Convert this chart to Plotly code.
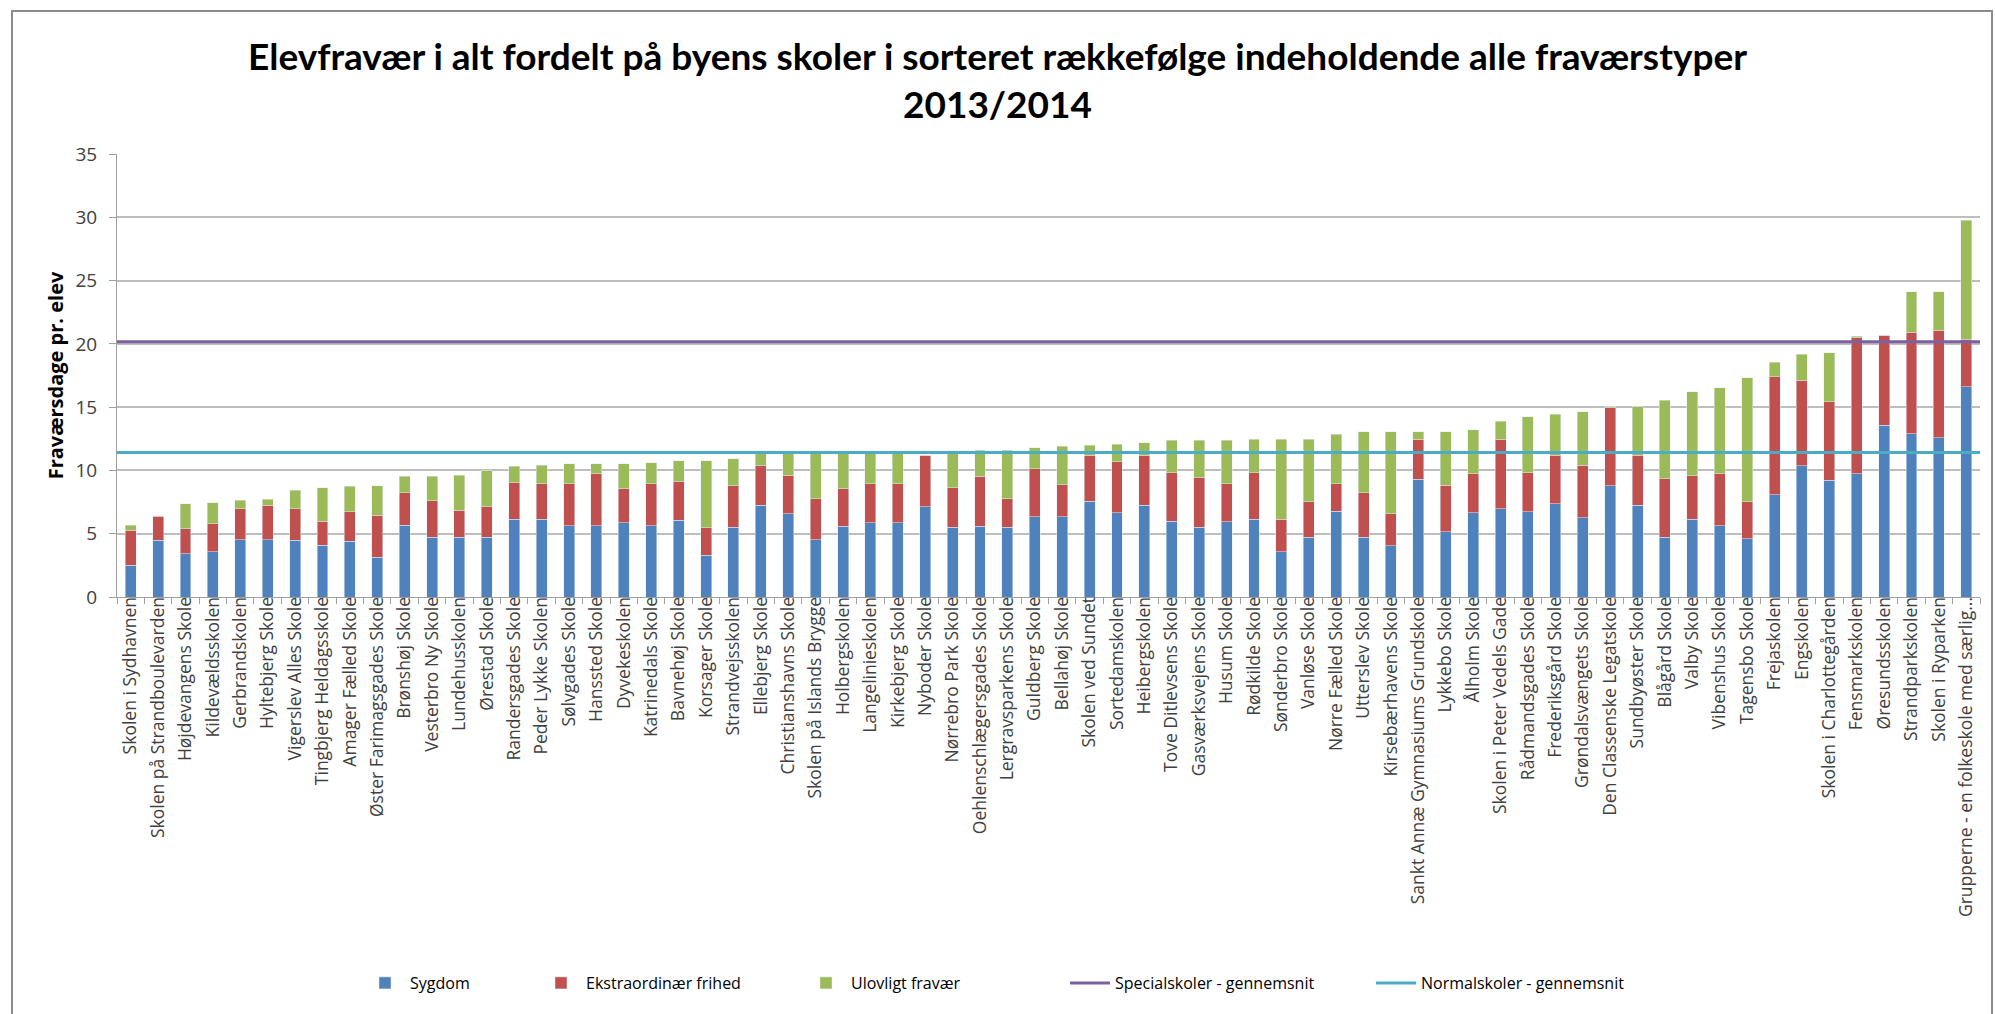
import plotly.graph_objects as go

schools = [
    "Skolen i Sydhavnen", "Skolen på Strandboulevarden", "Højdevangens Skole", "Kildevældsskolen",
    "Gerbrandskolen", "Hyltebjerg Skole", "Vigerslev Alles Skole", "Tingbjerg Heldagsskole",
    "Amager Fælled Skole", "Øster Farimagsgades Skole", "Brønshøj Skole", "Vesterbro Ny Skole",
    "Lundehusskolen", "Ørestad Skole", "Randersgades Skole", "Peder Lykke Skolen",
    "Sølvgades Skole", "Hanssted Skole", "Dyvekeskolen", "Katrinedals Skole",
    "Bavnehøj Skole", "Korsager Skole", "Strandvejsskolen", "Ellebjerg Skole",
    "Christianshavns Skole", "Skolen på Islands Brygge", "Holbergskolen", "Langelinieskolen",
    "Kirkebjerg Skole", "Nyboder Skole", "Nørrebro Park Skole", "Oehlenschlægersgades Skole",
    "Lergravsparkens Skole", "Guldberg Skole", "Bellahøj Skole", "Skolen ved Sundet",
    "Sortedamskolen", "Heibergskolen", "Tove Ditlevsens Skole", "Gasværksvejens Skole",
    "Husum Skole", "Rødkilde Skole", "Sønderbro Skole", "Vanløse Skole",
    "Nørre Fælled Skole", "Utterslev Skole", "Kirsebærhavens Skole", "Sankt Annæ Gymnasiums Grundskole",
    "Lykkebo Skole", "Ålholm Skole", "Skolen i Peter Vedels Gade", "Rådmandsgades Skole",
    "Frederiksgård Skole", "Grøndalsvængets Skole", "Den Classenske Legatskole", "Sundbyøster Skole",
    "Blågård Skole", "Valby Skole", "Vibenshus Skole", "Tagensbo Skole",
    "Frejaskolen", "Engskolen", "Skolen i Charlottegården", "Fensmarkskolen",
    "Øresundsskolen", "Strandparkskolen", "Skolen i Ryparken", "Grupperne - en folkeskole med særlig...",
]

sygdom = [2.5, 4.48, 3.43, 3.56, 4.53, 4.53, 4.48, 4.09, 4.4, 3.16,
          5.67, 4.74, 4.74, 4.74, 6.14, 6.14, 5.61, 5.61, 5.85, 5.61,
          6.06, 3.29, 5.53, 7.25, 6.59, 4.53, 5.59, 5.85, 5.85, 7.12,
          5.53, 5.59, 5.53, 6.33, 6.33, 7.56, 6.67, 7.25, 5.98, 5.53,
          5.93, 6.14, 3.56, 4.74, 6.77, 4.74, 4.03, 9.3, 5.14, 6.67,
          6.98, 6.72, 7.38, 6.25, 8.8, 7.25, 4.74, 6.14, 5.61, 4.61,
          8.09, 10.36, 9.22, 9.75, 13.57, 12.91, 12.57, 16.6]

ekstraordinaer = [2.77, 1.9, 1.97, 2.24, 2.45, 2.72, 2.5, 1.89, 2.32, 3.3,
                  2.55, 2.85, 2.11, 2.38, 2.87, 2.82, 3.35, 4.14, 2.72, 3.35,
                  3.03, 2.19, 3.25, 3.11, 3.03, 3.25, 2.98, 3.11, 3.11, 4.08,
                  3.09, 3.95, 2.25, 3.82, 2.55, 3.64, 4.0, 3.95, 3.82, 3.91,
                  3.03, 3.69, 2.58, 2.77, 2.19, 3.51, 2.56, 3.17, 3.69, 3.08,
                  5.49, 3.11, 3.82, 4.16, 6.17, 3.95, 4.62, 3.43, 4.14, 2.9,
                  9.31, 6.77, 6.2, 10.75, 7.07, 7.99, 8.52, 3.77]

ulovligt = [0.4, 0.05, 1.98, 1.66, 0.66, 0.47, 1.45, 2.67, 2.03, 2.32,
            1.32, 1.95, 2.77, 2.84, 1.32, 1.45, 1.58, 0.79, 1.97, 1.66,
            1.66, 5.27, 2.16, 0.99, 1.83, 3.67, 2.88, 2.49, 2.49, 0.0,
            2.83, 2.06, 3.82, 1.66, 3.03, 0.79, 1.4, 1.0, 2.59, 2.95,
            3.43, 2.64, 6.33, 4.96, 3.9, 4.8, 6.46, 0.58, 4.22, 3.48,
            1.42, 4.4, 3.22, 4.22, 0.05, 3.82, 6.19, 6.64, 6.8, 9.81,
            1.13, 2.06, 3.87, 0.1, 0.05, 3.22, 3.03, 9.41]

specialskoler_snit = 20.16
normalskoler_snit = 11.41

y_ticks = [0, 5, 10, 15, 20, 25, 30, 35]

FONT = "Open Sans, Lato, sans-serif"
TITLE_FONT = "Lato, Open Sans, sans-serif"

L, R, T, B = 117, 15, 154, 417
W, H = 1995, 1014
pw, ph = W - L - R, H - T - B


def px(x):
    return (x - L) / pw


def py(y):
    return (H - B - y) / ph


fig = go.Figure()
fig.add_trace(go.Bar(name="Sygdom", x=schools, y=sygdom, marker_color="#4F81BD", legend="legend",
                     showlegend=True))
fig.add_trace(go.Bar(name="Ekstraordinær frihed", x=schools, y=ekstraordinaer, marker_color="#C0504D",
                     legend="legend2", showlegend=True))
fig.add_trace(go.Bar(name="Ulovligt fravær", x=schools, y=ulovligt, marker_color="#9BBB59",
                     legend="legend3", showlegend=True))
fig.add_trace(go.Scatter(name="Specialskoler - gennemsnit", x=[0, 1],
                         y=[specialskoler_snit, specialskoler_snit], xaxis="x2",
                         mode="lines", line=dict(color="#7D60A0", width=3), legend="legend4",
                         showlegend=True))
fig.add_trace(go.Scatter(name="Normalskoler - gennemsnit", x=[0, 1],
                         y=[normalskoler_snit, normalskoler_snit], xaxis="x2",
                         mode="lines", line=dict(color="#4BACC6", width=3), legend="legend5",
                         showlegend=True))

legend_y = py(983)
legend_lefts = [360, 536, 801, 1065, 1371]


def leg(xpix):
    return dict(orientation="h", x=px(xpix), xanchor="left", y=legend_y, yanchor="middle",
                font=dict(size=16, color="#000000"), itemwidth=40, bgcolor="rgba(0,0,0,0)",
                visible=True)


fig.update_layout(
    width=W, height=H,
    margin=dict(l=L, r=R, t=T, b=B),
    showlegend=True,
    barmode="stack", bargap=0.6,
    paper_bgcolor="white", plot_bgcolor="white",
    font=dict(family=FONT, color="#404040"),
    title=dict(
        text="<b>Elevfravær i alt fordelt på byens skoler i sorteret rækkefølge indeholdende alle fraværstyper<br>2013/2014</b>",
        x=0.5, xanchor="center", y=1 - 70 / H, yanchor="middle",
        font=dict(family=TITLE_FONT, size=37, color="#000000"),
    ),
    xaxis=dict(
        type="category", tickangle=-90, tickfont=dict(size=17.5, color="#404040"),
        showline=True, linecolor="#A0A0A0", linewidth=1,
        ticks="outside", ticklen=6, tickcolor="#A0A0A0", tickson="boundaries",
        ticklabelstandoff=-8,
        showgrid=False, range=[-0.5, len(schools) - 0.5],
    ),
    xaxis2=dict(overlaying="x", range=[0, 1], visible=False, fixedrange=True),
    yaxis=dict(
        range=[0, 35], tickvals=y_ticks, tickfont=dict(size=19, color="#404040"),
        showline=True, linecolor="#A0A0A0", linewidth=1,
        ticks="outside", ticklen=7, tickcolor="#A0A0A0",
        ticklabelstandoff=8,
        showgrid=True, gridcolor="#BEBEBE", gridwidth=1.5,
        title=dict(text="<b>Fraværsdage pr. elev</b>", font=dict(size=20, color="#000000"), standoff=6),
        zeroline=False,
    ),
    legend=leg(legend_lefts[0]),
    legend2=leg(legend_lefts[1]),
    legend3=leg(legend_lefts[2]),
    legend4=leg(legend_lefts[3]),
    legend5=leg(legend_lefts[4]),
    shapes=[dict(type="rect", xref="paper", yref="paper",
                 x0=px(12), x1=px(1992), y0=py(1030), y1=py(11),
                 line=dict(color="#8C8C8C", width=2), fillcolor="rgba(0,0,0,0)", layer="below")],
)

fig.write_html("out.html", config={"displayModeBar": False},
               post_script="document.body.style.margin='0';document.body.style.overflow='hidden';")
